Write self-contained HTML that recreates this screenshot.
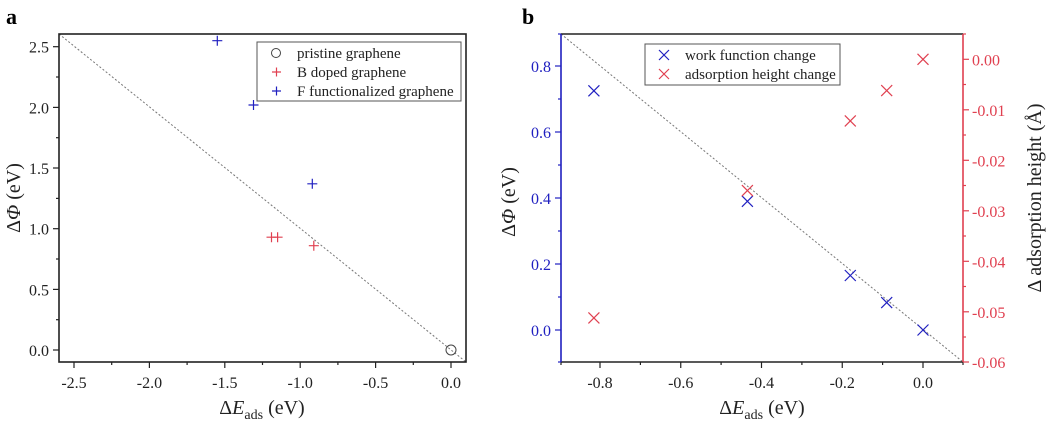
<!DOCTYPE html>
<html><head><style>
html,body{margin:0;padding:0;background:#fff;}
svg{display:block;}
text{font-family:"Liberation Serif","DejaVu Serif",serif;}
</style></head><body>
<svg width="1050" height="424" viewBox="0 0 1050 424" xmlns="http://www.w3.org/2000/svg">
<!-- Panel a -->
<text x="6" y="24" font-size="22" font-weight="bold">a</text>
<line x1="59" y1="34" x2="466" y2="362" stroke="#777" stroke-width="1" stroke-dasharray="2,2"/>
<rect x="59" y="34" width="407" height="328" fill="none" stroke="#222" stroke-width="1.6"/>
<g stroke="#222" stroke-width="1.2">
<line x1="74" y1="362" x2="74" y2="368"/><line x1="149.4" y1="362" x2="149.4" y2="368"/><line x1="224.8" y1="362" x2="224.8" y2="368"/><line x1="300.2" y1="362" x2="300.2" y2="368"/><line x1="375.6" y1="362" x2="375.6" y2="368"/><line x1="451" y1="362" x2="451" y2="368"/>
<line x1="111.7" y1="362" x2="111.7" y2="365"/><line x1="187.1" y1="362" x2="187.1" y2="365"/><line x1="262.5" y1="362" x2="262.5" y2="365"/><line x1="337.9" y1="362" x2="337.9" y2="365"/><line x1="413.3" y1="362" x2="413.3" y2="365"/>
<line x1="53" y1="350" x2="59" y2="350"/><line x1="53" y1="289.4" x2="59" y2="289.4"/><line x1="53" y1="228.7" x2="59" y2="228.7"/><line x1="53" y1="168" x2="59" y2="168"/><line x1="53" y1="107.4" x2="59" y2="107.4"/><line x1="53" y1="46.7" x2="59" y2="46.7"/>
<line x1="56" y1="319.7" x2="59" y2="319.7"/><line x1="56" y1="259" x2="59" y2="259"/><line x1="56" y1="198.4" x2="59" y2="198.4"/><line x1="56" y1="137.7" x2="59" y2="137.7"/><line x1="56" y1="77" x2="59" y2="77"/>
</g>
<g font-size="16" fill="#222" text-anchor="middle">
<text x="74" y="388">-2.5</text><text x="149.4" y="388">-2.0</text><text x="224.8" y="388">-1.5</text><text x="300.2" y="388">-1.0</text><text x="375.6" y="388">-0.5</text><text x="451" y="388">0.0</text>
</g>
<g font-size="16" fill="#222" text-anchor="end">
<text x="49" y="356">0.0</text><text x="49" y="295.4">0.5</text><text x="49" y="234.7">1.0</text><text x="49" y="174">1.5</text><text x="49" y="113.4">2.0</text><text x="49" y="52.7">2.5</text>
</g>
<text x="262" y="414" font-size="20" fill="#222" text-anchor="middle">Δ<tspan font-style="italic">E</tspan><tspan font-size="14" dy="5">ads</tspan><tspan dy="-5"> (eV)</tspan></text>
<text transform="translate(20,198) rotate(-90)" font-size="20" fill="#222" text-anchor="middle">Δ<tspan font-style="italic">Φ</tspan> (eV)</text>
<g stroke="#2020c0" stroke-width="1.2">
<path d="M212.3 40.7h10M217.3 35.7v10"/><path d="M248.5 105h10M253.5 100v10"/><path d="M307.3 183.8h10M312.3 178.8v10"/>
</g>
<g stroke="#e04050" stroke-width="1.2">
<path d="M266.5 237.2h10M271.5 232.2v10"/><path d="M272.6 237.2h10M277.6 232.2v10"/><path d="M308.8 245.7h10M313.8 240.7v10"/>
</g>
<circle cx="451" cy="350" r="5" fill="none" stroke="#444" stroke-width="1"/>
<rect x="257" y="42" width="204" height="59" fill="#fff" stroke="#555" stroke-width="1"/>
<circle cx="276" cy="53" r="4.5" fill="none" stroke="#444" stroke-width="1"/>
<path d="M272 72h9M276.5 67.5v9" stroke="#e04050" stroke-width="1.2"/>
<path d="M272 91h9M276.5 86.5v9" stroke="#2020c0" stroke-width="1.2"/>
<g font-size="15" fill="#222"><text x="297" y="58">pristine graphene</text><text x="297" y="77">B doped graphene</text><text x="297" y="96">F functionalized graphene</text></g>

<!-- Panel b -->
<text x="522" y="24" font-size="22" font-weight="bold">b</text>
<line x1="561" y1="34" x2="963" y2="362" stroke="#777" stroke-width="1" stroke-dasharray="2,2"/>
<line x1="561" y1="34" x2="963" y2="34" stroke="#222" stroke-width="1.6"/>
<line x1="561" y1="362" x2="963" y2="362" stroke="#222" stroke-width="1.6"/>
<line x1="561" y1="34" x2="561" y2="362" stroke="#2020c0" stroke-width="1.6"/>
<line x1="963" y1="34" x2="963" y2="362" stroke="#e04050" stroke-width="1.6"/>
<g stroke="#222" stroke-width="1.2">
<line x1="600" y1="362" x2="600" y2="368"/><line x1="680.75" y1="362" x2="680.75" y2="368"/><line x1="761.5" y1="362" x2="761.5" y2="368"/><line x1="842.25" y1="362" x2="842.25" y2="368"/><line x1="923" y1="362" x2="923" y2="368"/>
<line x1="561" y1="362" x2="561" y2="365"/><line x1="640.4" y1="362" x2="640.4" y2="365"/><line x1="721.1" y1="362" x2="721.1" y2="365"/><line x1="801.9" y1="362" x2="801.9" y2="365"/><line x1="882.6" y1="362" x2="882.6" y2="365"/><line x1="963" y1="362" x2="963" y2="365"/>
</g>
<g stroke="#2020c0" stroke-width="1.2">
<line x1="555" y1="330" x2="561" y2="330"/><line x1="555" y1="264" x2="561" y2="264"/><line x1="555" y1="198" x2="561" y2="198"/><line x1="555" y1="132" x2="561" y2="132"/><line x1="555" y1="66" x2="561" y2="66"/>
<line x1="558" y1="297" x2="561" y2="297"/><line x1="558" y1="231" x2="561" y2="231"/><line x1="558" y1="165" x2="561" y2="165"/><line x1="558" y1="99" x2="561" y2="99"/><line x1="558" y1="362" x2="561" y2="362"/><line x1="558" y1="34" x2="561" y2="34"/>
</g>
<g stroke="#e04050" stroke-width="1.2">
<line x1="963" y1="59.3" x2="969" y2="59.3"/><line x1="963" y1="109.8" x2="969" y2="109.8"/><line x1="963" y1="160.3" x2="969" y2="160.3"/><line x1="963" y1="210.8" x2="969" y2="210.8"/><line x1="963" y1="261.3" x2="969" y2="261.3"/><line x1="963" y1="311.8" x2="969" y2="311.8"/><line x1="963" y1="362" x2="969" y2="362"/>
<line x1="963" y1="84.5" x2="966" y2="84.5"/><line x1="963" y1="135" x2="966" y2="135"/><line x1="963" y1="185.5" x2="966" y2="185.5"/><line x1="963" y1="236" x2="966" y2="236"/><line x1="963" y1="286.5" x2="966" y2="286.5"/><line x1="963" y1="337" x2="966" y2="337"/><line x1="963" y1="34" x2="966" y2="34"/>
</g>
<g font-size="16" fill="#222" text-anchor="middle">
<text x="600" y="388">-0.8</text><text x="680.75" y="388">-0.6</text><text x="761.5" y="388">-0.4</text><text x="842.25" y="388">-0.2</text><text x="923" y="388">0.0</text>
</g>
<g font-size="16" fill="#2020c0" text-anchor="end">
<text x="551" y="336">0.0</text><text x="551" y="270">0.2</text><text x="551" y="204">0.4</text><text x="551" y="138">0.6</text><text x="551" y="72">0.8</text>
</g>
<g font-size="16" fill="#e04050" text-anchor="start">
<text x="972" y="65.3">0.00</text><text x="972" y="115.8">-0.01</text><text x="972" y="166.3">-0.02</text><text x="972" y="216.8">-0.03</text><text x="972" y="267.3">-0.04</text><text x="972" y="317.8">-0.05</text><text x="972" y="368">-0.06</text>
</g>
<text x="762" y="414" font-size="20" fill="#222" text-anchor="middle">Δ<tspan font-style="italic">E</tspan><tspan font-size="14" dy="5">ads</tspan><tspan dy="-5"> (eV)</tspan></text>
<text transform="translate(515,202) rotate(-90)" font-size="20" fill="#222" text-anchor="middle">Δ<tspan font-style="italic">Φ</tspan> (eV)</text>
<text transform="translate(1041,198) rotate(-90)" font-size="20" fill="#222" text-anchor="middle">Δ adsorption height (Å)</text>
<g stroke="#2020c0" stroke-width="1.2" fill="none">
<path d="M588.4 85.3l11 11M599.4 85.3l-11 11"/>
<path d="M741.9 195.8l11 11M752.9 195.8l-11 11"/>
<path d="M844.8 270l11 11M855.8 270l-11 11"/>
<path d="M881.2 297.1l11 11M892.2 297.1l-11 11"/>
<path d="M917.5 324.5l11 11M928.5 324.5l-11 11"/>
</g>
<g stroke="#e04050" stroke-width="1.2" fill="none">
<path d="M588.4 312.4l11 11M599.4 312.4l-11 11"/>
<path d="M741.9 185.1l11 11M752.9 185.1l-11 11"/>
<path d="M844.8 115.4l11 11M855.8 115.4l-11 11"/>
<path d="M881.2 85.1l11 11M892.2 85.1l-11 11"/>
<path d="M917.5 53.8l11 11M928.5 53.8l-11 11"/>
</g>
<rect x="645" y="44" width="195" height="41" fill="#fff" stroke="#555" stroke-width="1"/>
<path d="M659 50l10 10M669 50l-10 10" stroke="#2020c0" stroke-width="1.2"/>
<path d="M659 69l10 10M669 69l-10 10" stroke="#e04050" stroke-width="1.2"/>
<g font-size="15" fill="#222"><text x="685" y="60">work function change</text><text x="685" y="79">adsorption height change</text></g>
</svg>
</body></html>
